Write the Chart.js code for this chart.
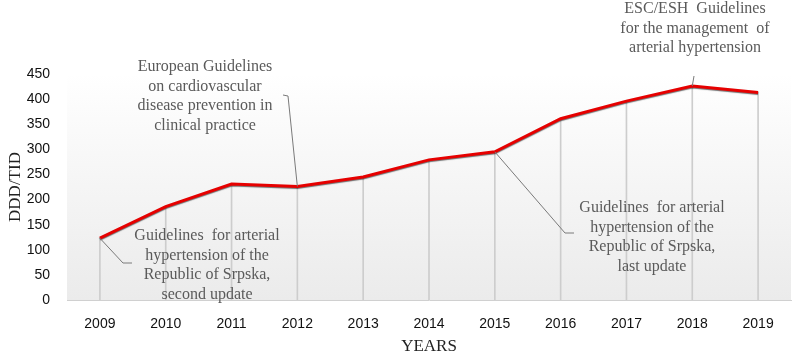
<!DOCTYPE html>
<html>
<head>
<meta charset="utf-8">
<script src="https://cdn.jsdelivr.net/npm/chart.js@4/dist/chart.umd.min.js"></script>
<style>
  html, body { margin: 0; padding: 0; background: #fff; }
  #wrap { width: 796px; height: 357px; }
</style>
</head>
<body>
<div id="wrap"><canvas id="dddChart" width="796" height="357"></canvas></div>
<script>
// data
const years = ['2009', '2010', '2011', '2012', '2013', '2014', '2015', '2016', '2017', '2018', '2019'];
const dddValues = [123, 186, 231, 226, 245, 279, 295, 361, 396, 426, 413];
const yTicks = [0, 50, 100, 150, 200, 250, 300, 350, 400, 450];

// callouts: text lines, anchor year, text centre and leader elbow
const callouts = [
  { year: '2012', lines: ['European Guidelines', 'on cardiovascular', 'disease prevention in', 'clinical practice'],
    cx: 205, y0: 67, elbow: [[283, 95], [288, 96]] },
  { year: '2009', lines: ['Guidelines  for arterial', 'hypertension of the', 'Republic of Srpska,', 'second update'],
    cx: 207, y0: 236, elbow: [[132, 263], [123, 263]] },
  { year: '2018', lines: ['ESC/ESH  Guidelines', 'for the management  of', 'arterial hypertension'],
    cx: 695, y0: 9, elbow: [[694, 76]] },
  { year: '2015', lines: ['Guidelines  for arterial', 'hypertension of the', 'Republic of Srpska,', 'last update'],
    cx: 652, y0: 208, elbow: [[574, 233], [565, 233]] }
];

const plotBackground = {
  id: 'plotBackground',
  beforeDraw(chart) {
    const { ctx, chartArea: a } = chart;
    const g = ctx.createLinearGradient(0, a.top, 0, a.bottom);
    g.addColorStop(0, '#ffffff');
    g.addColorStop(1, '#ebebeb');
    ctx.save();
    ctx.fillStyle = g;
    ctx.fillRect(a.left, a.top, a.right - a.left, a.bottom - a.top);
    ctx.restore();
  }
};

const lineShadow = {
  id: 'lineShadow',
  beforeDatasetDraw(chart, args) {
    if (args.index !== 1) return;
    const ctx = chart.ctx;
    ctx.save();
    ctx.shadowColor = 'rgba(0,0,0,0.55)';
    ctx.shadowOffsetY = 1;
    ctx.shadowBlur = 1;
  },
  afterDatasetDraw(chart, args) {
    if (args.index !== 1) return;
    chart.ctx.restore();
  }
};

const calloutPlugin = {
  id: 'callouts',
  afterDraw(chart) {
    const { ctx, scales } = chart;
    ctx.save();
    ctx.strokeStyle = '#7a7a7a';
    ctx.lineWidth = 1;
    ctx.fillStyle = '#5a5a5a';
    ctx.font = '16px "Liberation Serif"';
    ctx.textAlign = 'center';
    ctx.textBaseline = 'middle';
    callouts.forEach(c => {
      const i = years.indexOf(c.year);
      const px = scales.x.getPixelForValue(i);
      const py = scales.y.getPixelForValue(dddValues[i]);
      ctx.beginPath();
      ctx.moveTo(c.elbow[0][0], c.elbow[0][1]);
      for (let k = 1; k < c.elbow.length; k++) ctx.lineTo(c.elbow[k][0], c.elbow[k][1]);
      ctx.lineTo(px, py);
      ctx.stroke();
      c.lines.forEach((t, k) => ctx.fillText(t, c.cx, c.y0 + k * 19.5));
    });
    ctx.restore();
  }
};

new Chart(document.getElementById('dddChart'), {
  data: {
    labels: years,
    datasets: [
      {
        type: 'bar',
        data: dddValues,
        backgroundColor: '#cdcdcd',
        barThickness: 1,
        order: 2
      },
      {
        type: 'line',
        data: dddValues,
        borderColor: '#e60000',
        borderWidth: 3,
        pointRadius: 0,
        tension: 0,
        order: 1
      }
    ]
  },
  options: {
    responsive: false,
    animation: false,
    layout: { padding: { top: 74, right: 5, left: 0, bottom: 0 } },
    plugins: {
      legend: { display: false },
      tooltip: { enabled: false }
    },
    scales: {
      x: {
        offset: true,
        grid: { display: false },
        border: { display: true, color: '#d0d0d0', width: 1 },
        ticks: { color: '#111', font: { family: 'Liberation Sans', size: 14 }, padding: 8 },
        title: { display: true, text: 'YEARS', color: '#222', font: { family: 'Liberation Serif', size: 17 }, padding: { top: 0, bottom: 0 } },
        afterFit(scale) { scale.height = 57; }
      },
      y: {
        min: 0,
        max: 450,
        afterBuildTicks(scale) { scale.ticks = yTicks.map(v => ({ value: v })); },
        grid: { display: false, drawTicks: false },
        border: { display: false },
        ticks: { color: '#111', font: { family: 'Liberation Sans', size: 14 }, padding: 17 },
        title: { display: true, text: 'DDD/TID', color: '#222', font: { family: 'Liberation Serif', size: 17 }, padding: { top: 5, bottom: 0 } },
        afterFit(scale) { scale.width = 67; }
      }
    }
  },
  plugins: [plotBackground, lineShadow, calloutPlugin]
});
</script>
</body>
</html>
